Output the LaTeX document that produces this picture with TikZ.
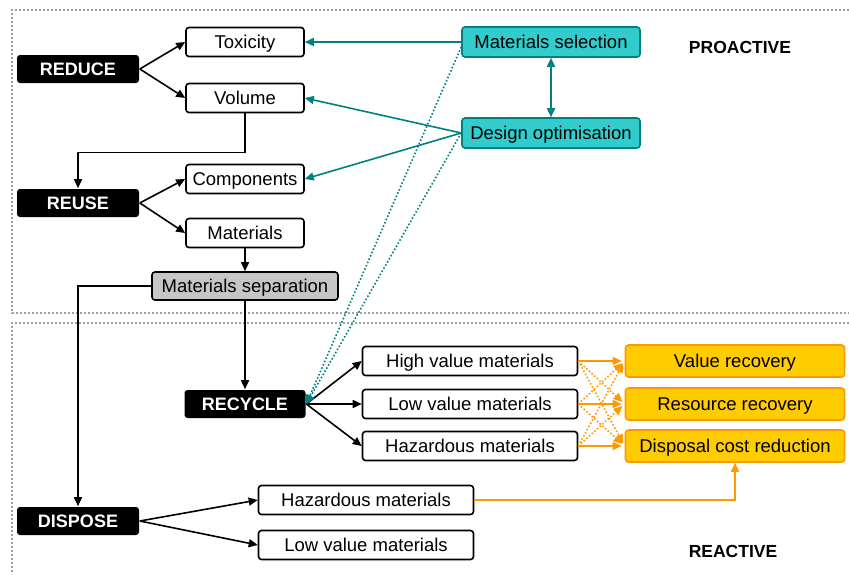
\documentclass[tikz,border=0pt]{standalone}
\usepackage{fontspec}
\setmainfont{Liberation Sans}
\usetikzlibrary{positioning}
\usetikzlibrary{arrows.meta}
\definecolor{tealline}{HTML}{008080}
\definecolor{tealfill}{HTML}{33CCCC}
\definecolor{goldfill}{HTML}{FFCC00}
\definecolor{orangeline}{HTML}{FF9900}

\begin{document}
\begin{tikzpicture}
  [x=1pt, y=-1pt, on grid,
   every node/.style = {rounded corners=3pt, inner sep=0pt, text height=13.4pt, text depth=0pt,
                        font=\fontsize{18.5}{22}\selectfont},
   every path/.style = {->, >={Triangle[length=9pt, width=8pt]}, line width=1.6pt},
   stage/.style = {fill=black, text=white, font=\fontsize{18}{22}\selectfont\bfseries,
                   minimum width=122pt, minimum height=28pt},
   item/.style = {draw, fill=white, minimum width=118pt, minimum height=29pt},
   wide/.style = {item, minimum width=215pt},
   sep/.style = {item, fill=gray!45, minimum width=186pt, minimum height=28pt},
   design/.style = {draw=tealline, fill=tealfill, minimum width=178pt, minimum height=30pt},
   gain/.style = {draw=orangeline, fill=goldfill, minimum width=219pt, minimum height=32pt},
   label/.style = {font=\fontsize{17.5}{21}\selectfont\bfseries},
   frame/.style = {-, draw=gray!75, line width=1.6pt, dash pattern=on 1.6pt off 2.4pt}]
  \useasboundingbox (0,0) rectangle (849,574);

  \draw [frame] (849,10) -| (12,313) -- (849,313);
  \draw [frame] (849,323) -| (12,574);

  \node (reduce) [stage] at (78,69) {REDUCE};
  \node (tox) [item, above right=27pt and 167pt of reduce] {Toxicity};
  \node (vol) [item, below=56pt of tox] {Volume};
  \node (reuse) [stage, below=134pt of reduce] {REUSE};
  \node (comp) [item, above right=24pt and 167pt of reuse] {Components};
  \node (mat) [item, below=54pt of comp] {Materials};
  \node (sep) [sep, below=53pt of mat] {Materials separation};
  \node (recycle) [stage, below=118pt of sep, minimum width=121pt] {RECYCLE};
  \node (high) [wide, above right=43pt and 225pt of recycle] {High value materials};
  \node (low) [wide, right=225pt of recycle] {Low value materials};
  \node (haz) [wide, below=42pt of low] {Hazardous materials};
  \node (valrec) [gain, right=265pt of high] {Value recovery};
  \node (resrec) [gain, right=265pt of low] {Resource recovery};
  \node (discost) [gain, right=265pt of haz] {Disposal cost reduction};
  \node (dispose) [stage, below=318pt of reuse] {DISPOSE};
  \node (dhaz) [wide, above right=21pt and 288pt of dispose] {Hazardous materials};
  \node (dlow) [wide, below=45pt of dhaz] {Low value materials};
  \node (matsel) [design, right=306pt of tox] {Materials selection};
  \node (desopt) [design, below=91pt of matsel] {Design optimisation};
  \node (pro) [label] at (740,47) {PROACTIVE};
  \node (re) [label] at (733,551) {REACTIVE};

  \draw (reduce.east) -- (tox.west);
  \draw (reduce.east) -- (vol.west);
  \draw (vol.south) -- ++(0,39) -| (reuse.north);
  \draw (reuse.east) -- (comp.west);
  \draw (reuse.east) -- (mat.west);
  \draw (mat) -- (sep);
  \draw (sep.west) -| (dispose.north);
  \draw (sep) -- (recycle);
  \foreach \n in {high, low, haz}
    \draw (recycle.east) -- (\n.west);
  \draw (dispose.east) -- (dhaz.west);
  \draw (dispose.east) -- (dlow.west);

  \draw [tealline] (matsel) -- (tox);
  \draw [tealline] (desopt.west) -- (vol.east);
  \draw [tealline] (desopt.west) -- (comp.east);
  \draw [tealline, <->] (matsel) -- (desopt);
  \draw [tealline, dotted] ([yshift=-5pt]matsel.west) -- (recycle.east);
  \draw [tealline, dotted] (desopt.west) -- (recycle.east);

  \foreach \a/\b in {high/valrec, low/resrec, haz/discost}
    \draw [orangeline, shorten >=3pt] (\a.east) -- (\b.west);
  \foreach \a/\b in {high/resrec, high/discost, low/valrec, low/discost, haz/valrec, haz/resrec}
    \draw [orangeline, dotted, shorten >=3pt] (\a.east) -- (\b.west);
  \draw [orangeline] (dhaz.east) -| (discost.south);
\end{tikzpicture}
\end{document}
